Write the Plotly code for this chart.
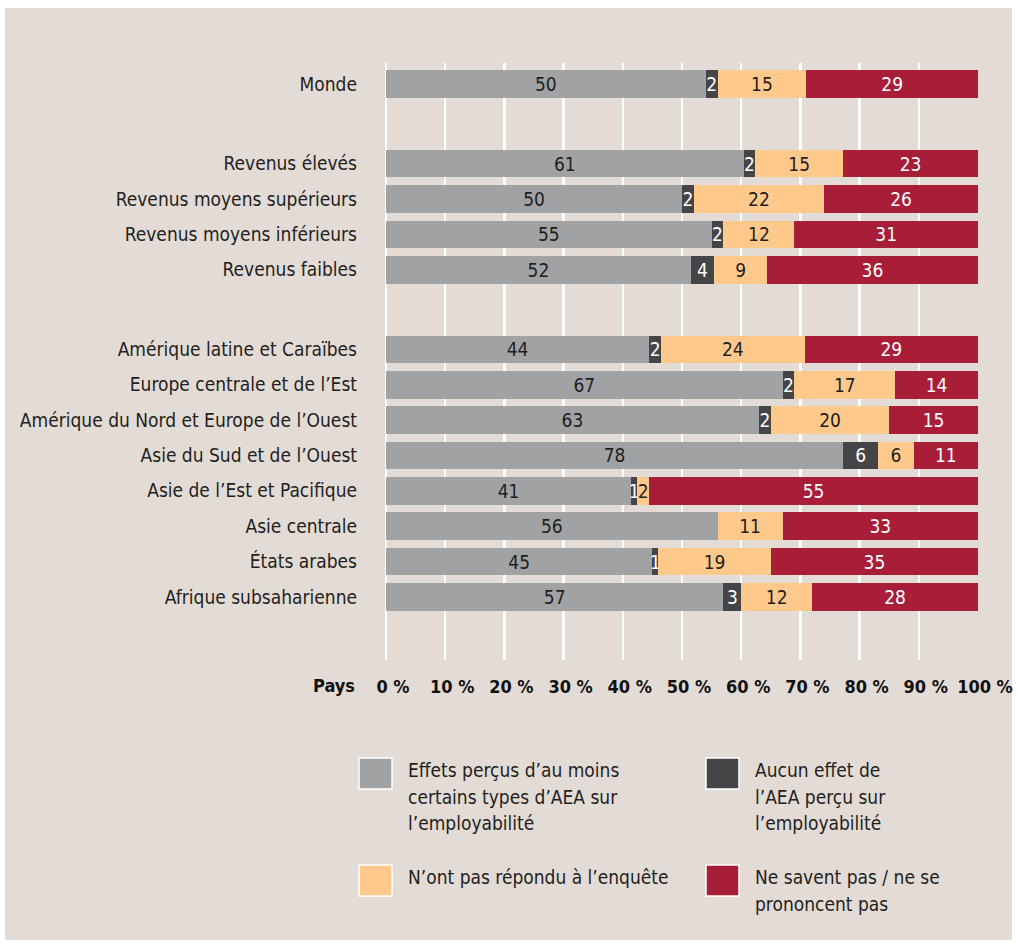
import plotly.graph_objects as go

# ---------------- data ----------------
categories = [
    "Monde",
    "Revenus élevés", "Revenus moyens supérieurs", "Revenus moyens inférieurs", "Revenus faibles",
    "Amérique latine et Caraïbes", "Europe centrale et de l’Est",
    "Amérique du Nord et Europe de l’Ouest", "Asie du Sud et de l’Ouest",
    "Asie de l’Est et Pacifique", "Asie centrale", "États arabes", "Afrique subsaharienne",
]
groups = [0, 1, 1, 1, 1, 2, 2, 2, 2, 2, 2, 2, 2]

# bar widths
effets = [54, 61, 50, 55, 52, 44, 67, 63, 78, 41, 56, 45, 57]
aucun = [2, 2, 2, 2, 4, 2, 2, 2, 6, 1, 0, 1, 3]
non_rep = [15, 15, 22, 12, 9, 24, 17, 20, 6, 2, 11, 19, 12]
ne_savent = [29, 23, 26, 31, 36, 29, 14, 15, 11, 55, 33, 35, 28]
# printed labels
effets_labels = [50, 61, 50, 55, 52, 44, 67, 63, 78, 41, 56, 45, 57]

series_names = [
    "Effets perçus d’au moins certains types d’AEA sur l’employabilité",
    "Aucun effet de l’AEA perçu sur l’employabilité",
    "N’ont pas répondu à l’enquête",
    "Ne savent pas / ne se prononcent pas",
]
legend_lines = [
    ["Effets perçus d’au moins", "certains types d’AEA sur", "l’employabilité"],
    ["Aucun effet de", "l’AEA perçu sur", "l’employabilité"],
    ["N’ont pas répondu à l’enquête"],
    ["Ne savent pas / ne se", "prononcent pas"],
]
x_ticks = list(range(0, 101, 10))
x_ticktext = [f"{v} %" for v in x_ticks]

# ---------------- style ----------------
W, H = 1017, 946
L, R, T, B = 386, 978, 63, 660
BG = "#e3dbd6"
COLORS = ["#a1a2a4", "#454547", "#fec98a", "#a81d37"]
TXT_COL = ["#1e1e1e", "#ffffff", "#1e1e1e", "#ffffff"]
FONT = "DejaVu Sans Condensed, Liberation Sans Narrow, Arial Narrow, sans-serif"
DARK = "#231f20"
FS = 19

GROUP_GAP = 1.25
ypos = [i + GROUP_GAP * g for i, g in enumerate(groups)]
row_px = 35.35
y_top = ypos[0] - (84 - T) / row_px
y_bot = ypos[-1] + (B - 597) / row_px


def px_x(p):
    return (p - L) / (R - L)


def px_y(p):
    return (B - p) / (B - T)


fig = go.Figure()
all_vals = [effets, aucun, non_rep, ne_savent]
all_labels = [effets_labels, aucun, non_rep, ne_savent]
for k in range(4):
    texts = [str(t) if v > 0 else "" for v, t in zip(all_vals[k], all_labels[k])]
    fig.add_trace(go.Bar(
        y=ypos, x=all_vals[k], orientation="h", name=series_names[k],
        marker=dict(color=COLORS[k], line=dict(width=0)),
        text=texts, textposition="inside", insidetextanchor="middle",
        textangle=0, constraintext="none",
        textfont=dict(family=FONT, size=FS, color=TXT_COL[k]),
        width=0.78, showlegend=False, hoverinfo="skip",
    ))

shapes = [
    dict(type="rect", xref="paper", yref="paper", layer="below",
         x0=px_x(5), x1=px_x(1012), y0=px_y(940), y1=px_y(8),
         fillcolor=BG, line=dict(width=0)),
]
annotations = [
    dict(text="<b>Pays</b>", xref="paper", yref="paper", x=px_x(357), y=px_y(685),
         xanchor="right", yanchor="middle", showarrow=False,
         font=dict(family=FONT, size=18, color="#111111")),
]

# legend (manual, 2x2)
leg_pos = [(359, 758), (706, 758), (359, 865), (706, 865)]
for k, (lx, ly) in enumerate(leg_pos):
    shapes.append(dict(type="rect", xref="paper", yref="paper",
                       x0=px_x(lx), x1=px_x(lx + 33), y0=px_y(ly + 31), y1=px_y(ly),
                       fillcolor=COLORS[k], line=dict(color="#ffffff", width=1.5)))
    for j, line in enumerate(legend_lines[k]):
        annotations.append(dict(text=line, xref="paper", yref="paper",
                                x=px_x(lx + 47), y=px_y(ly + 12 + 26.5 * j),
                                xanchor="left", yanchor="middle", showarrow=False,
                                font=dict(family=FONT, size=FS, color=DARK)))

fig.update_layout(
    width=W, height=H, autosize=False,
    barmode="stack", barnorm="percent",
    paper_bgcolor="#ffffff", plot_bgcolor=BG,
    margin=dict(l=L, r=W - R, t=T, b=H - B, pad=0, autoexpand=False),
    font=dict(family=FONT, size=FS, color=DARK),
    uniformtext=dict(minsize=FS, mode="show"),
    xaxis=dict(range=[0, 100], tickvals=x_ticks, ticktext=x_ticktext,
               showgrid=True, gridcolor="#ffffff", gridwidth=2.5,
               zeroline=True, zerolinecolor="#ffffff", zerolinewidth=2.5,
               showline=False, ticks="", ticklabelshift=7, ticklabelstandoff=14,
               tickfont=dict(family=FONT, size=18, color="#111111", weight="bold"),
               automargin=False, fixedrange=True),
    yaxis=dict(range=[y_bot, y_top], tickvals=ypos, ticktext=categories,
               showgrid=False, zeroline=False, showline=False, ticks="",
               ticklabelstandoff=28,
               tickfont=dict(family=FONT, size=FS, color=DARK),
               automargin=False, fixedrange=True),
    shapes=shapes, annotations=annotations,
    showlegend=False,
)

fig.write_html(
    "out.html",
    config={"responsive": False, "displayModeBar": False, "staticPlot": True},
    post_script="document.body.style.margin='0px';document.body.style.overflow='hidden';",
)
